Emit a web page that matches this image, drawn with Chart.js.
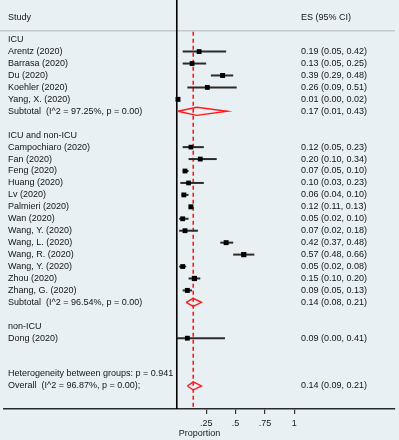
<!DOCTYPE html>
<html>
<head>
<meta charset="utf-8">
<script src="https://cdn.jsdelivr.net/npm/chart.js@4"></script>
<style>
html,body{margin:0;padding:0;background:#e8f0f3;}
#wrap{width:399px;height:440px;position:relative;}
</style>
</head>
<body>
<div id="wrap"><canvas id="c"></canvas></div>
<script>
// ---- data (row index = position from top) ----
const rowLabels = [
  'ICU','Arentz (2020)','Barrasa (2020)','Du (2020)','Koehler (2020)','Yang, X. (2020)',
  'Subtotal  (I^2 = 97.25%, p = 0.00)','',
  'ICU and non-ICU','Campochiaro (2020)','Fan (2020)','Feng (2020)','Huang (2020)','Lv (2020)',
  'Palmieri (2020)','Wan (2020)','Wang, Y. (2020)','Wang, L. (2020)','Wang, R. (2020)','Wang, Y. (2020)',
  'Zhou (2020)','Zhang, G. (2020)','Subtotal  (I^2 = 96.54%, p = 0.00)','',
  'non-ICU','Dong (2020)','','',
  'Heterogeneity between groups: p = 0.941','Overall  (I^2 = 96.87%, p = 0.00);'
];
const rowKind = [
  'group','study','study','study','study','study','sub','blank',
  'group','study','study','study','study','study','study','study','study','study','study','study','study','study','sub','blank',
  'group','study','blank','blank','het','overall'
];
const esValues = [null,0.19,0.13,0.39,0.26,0.01,0.17,null,
  null,0.12,0.20,0.07,0.10,0.06,0.12,0.05,0.07,0.42,0.57,0.05,0.15,0.09,0.14,null,
  null,0.09,null,null,null,0.14];
const ciLow = [null,0.05,0.05,0.29,0.09,0.00,0.01,null,
  null,0.05,0.10,0.05,0.03,0.04,0.11,0.02,0.02,0.37,0.48,0.02,0.10,0.05,0.08,null,
  null,0.00,null,null,null,0.09];
const ciHigh = [null,0.42,0.25,0.48,0.51,0.02,0.43,null,
  null,0.23,0.34,0.10,0.23,0.10,0.13,0.10,0.18,0.48,0.66,0.08,0.20,0.13,0.21,null,
  null,0.41,null,null,null,0.21];
const squareSize = [null,3.4,3.4,3.5,3.4,3.5,null,null,
  null,3.3,3.4,3.4,3.3,3.4,3.5,3.4,3.4,3.5,3.7,3.4,3.7,3.5,null,null,
  null,3.4,null,null,null,null];
const xTicks = [0.25,0.5,0.75,1];
const overallES = 0.14;
const headerLeft = 'Study';
const headerRight = 'ES (95% CI)';
const xTitle = 'Proportion';

const fmt = v => v.toFixed(2);
const FONT = '9px "Liberation Sans", Arial, sans-serif';

// ---- datasets ----
const datasets = [];
// reference dashed line at overall ES
datasets.push({type:'line', data:[{x:overallES,y:-0.66},{x:overallES,y:30.93}],
  borderColor:'#ff1a1a', borderWidth:1.6, borderDash:[4,3], pointRadius:0, fill:false, order:5});
// CI lines
rowKind.forEach((k,i)=>{
  if(k==='study'){
    datasets.push({type:'line', data:[{x:ciLow[i],y:i},{x:ciHigh[i],y:i}],
      borderColor:'#2b2b2b', borderWidth:2, pointRadius:0, fill:false, order:3});
  }
});
// squares
const sq = [], sqR = [];
rowKind.forEach((k,i)=>{ if(k==='study'){ sq.push({x:esValues[i],y:i}); sqR.push(squareSize[i]); } });
datasets.push({type:'scatter', data:sq, pointStyle:'rect', pointRadius:sqR,
  backgroundColor:'#000', borderWidth:0, order:1});
// diamonds
const dh = 0.34;
rowKind.forEach((k,i)=>{
  if(k==='sub'||k==='overall'){
    datasets.push({type:'line', data:[
      {x:ciLow[i],y:i},{x:esValues[i],y:i-dh},{x:ciHigh[i],y:i},{x:esValues[i],y:i+dh},{x:ciLow[i],y:i}],
      borderColor:'#ff1a1a', borderWidth:1.4, pointRadius:0, fill:false, tension:0, order:2});
  }
});

// ---- plugin for background, frame lines and text ----
const forestText = {
  id:'forestText',
  beforeDraw(chart){
    const {ctx,width,height} = chart;
    ctx.save();
    ctx.fillStyle = '#e8f0f3';
    ctx.fillRect(0,0,width,height);
    ctx.restore();
  },
  beforeDatasetsDraw(chart){
    const {ctx} = chart;
    const xs = chart.scales.x, ys = chart.scales.y;
    const area = chart.chartArea;
    ctx.save();
    // header separator
    ctx.strokeStyle = '#c6c9cb'; ctx.lineWidth = 1.6;
    const yh = ys.getPixelForValue(-0.75);
    ctx.beginPath(); ctx.moveTo(0,yh); ctx.lineTo(area.right,yh); ctx.stroke();
    // null line at 0
    ctx.strokeStyle = '#000'; ctx.lineWidth = 1.6;
    const x0 = xs.getPixelForValue(0);
    ctx.beginPath(); ctx.moveTo(x0,0); ctx.lineTo(x0,area.bottom); ctx.stroke();
    // text
    ctx.fillStyle = '#141414';
    ctx.font = FONT;
    ctx.textBaseline = 'middle';
    ctx.textAlign = 'left';
    const yHead = ys.getPixelForValue(-1.82);
    ctx.fillText(headerLeft, 8, yHead);
    ctx.fillText(headerRight, 301, yHead);
    rowLabels.forEach((lab,i)=>{
      const y = ys.getPixelForValue(i);
      if(lab) ctx.fillText(lab, 8, y);
      if(esValues[i]!==null){
        ctx.fillText(fmt(esValues[i])+' ('+fmt(ciLow[i])+', '+fmt(ciHigh[i])+')', 301, y);
      }
    });
    ctx.restore();
  }
};

new Chart(document.getElementById('c'), {
  data:{datasets},
  options:{
    responsive:true, maintainAspectRatio:false, devicePixelRatio:1,
    animation:false, events:[],
    layout:{padding:{left:0,right:3,top:0,bottom:0}},
    plugins:{legend:{display:false}, tooltip:{enabled:false}},
    scales:{
      x:{type:'linear', position:'bottom',
        min:-175/119, max:(396-175)/119,
        afterBuildTicks(s){ s.ticks = xTicks.map(v=>({value:v})); },
        afterFit(s){ s.height = 31; },
        grid:{drawOnChartArea:false, drawTicks:true, tickLength:5, color:'#333', lineWidth:1.2},
        border:{display:true, color:'#2a2a2a', width:1.5},
        ticks:{padding:4, color:'#1a1a1a', maxRotation:0, autoSkip:false,
          font:{family:'"Liberation Sans", Arial, sans-serif', size:9},
          callback:(v)=> v===1 ? '1' : String(v).replace(/^0/,'')},
        title:{display:true, text:xTitle, color:'#1a1a1a', padding:{top:0,bottom:1},
          font:{family:'"Liberation Sans", Arial, sans-serif', size:9}}
      },
      y:{type:'linear', display:false, reverse:true, min:-2.985, max:30.93}
    }
  },
  plugins:[forestText]
});
</script>
</body>
</html>
